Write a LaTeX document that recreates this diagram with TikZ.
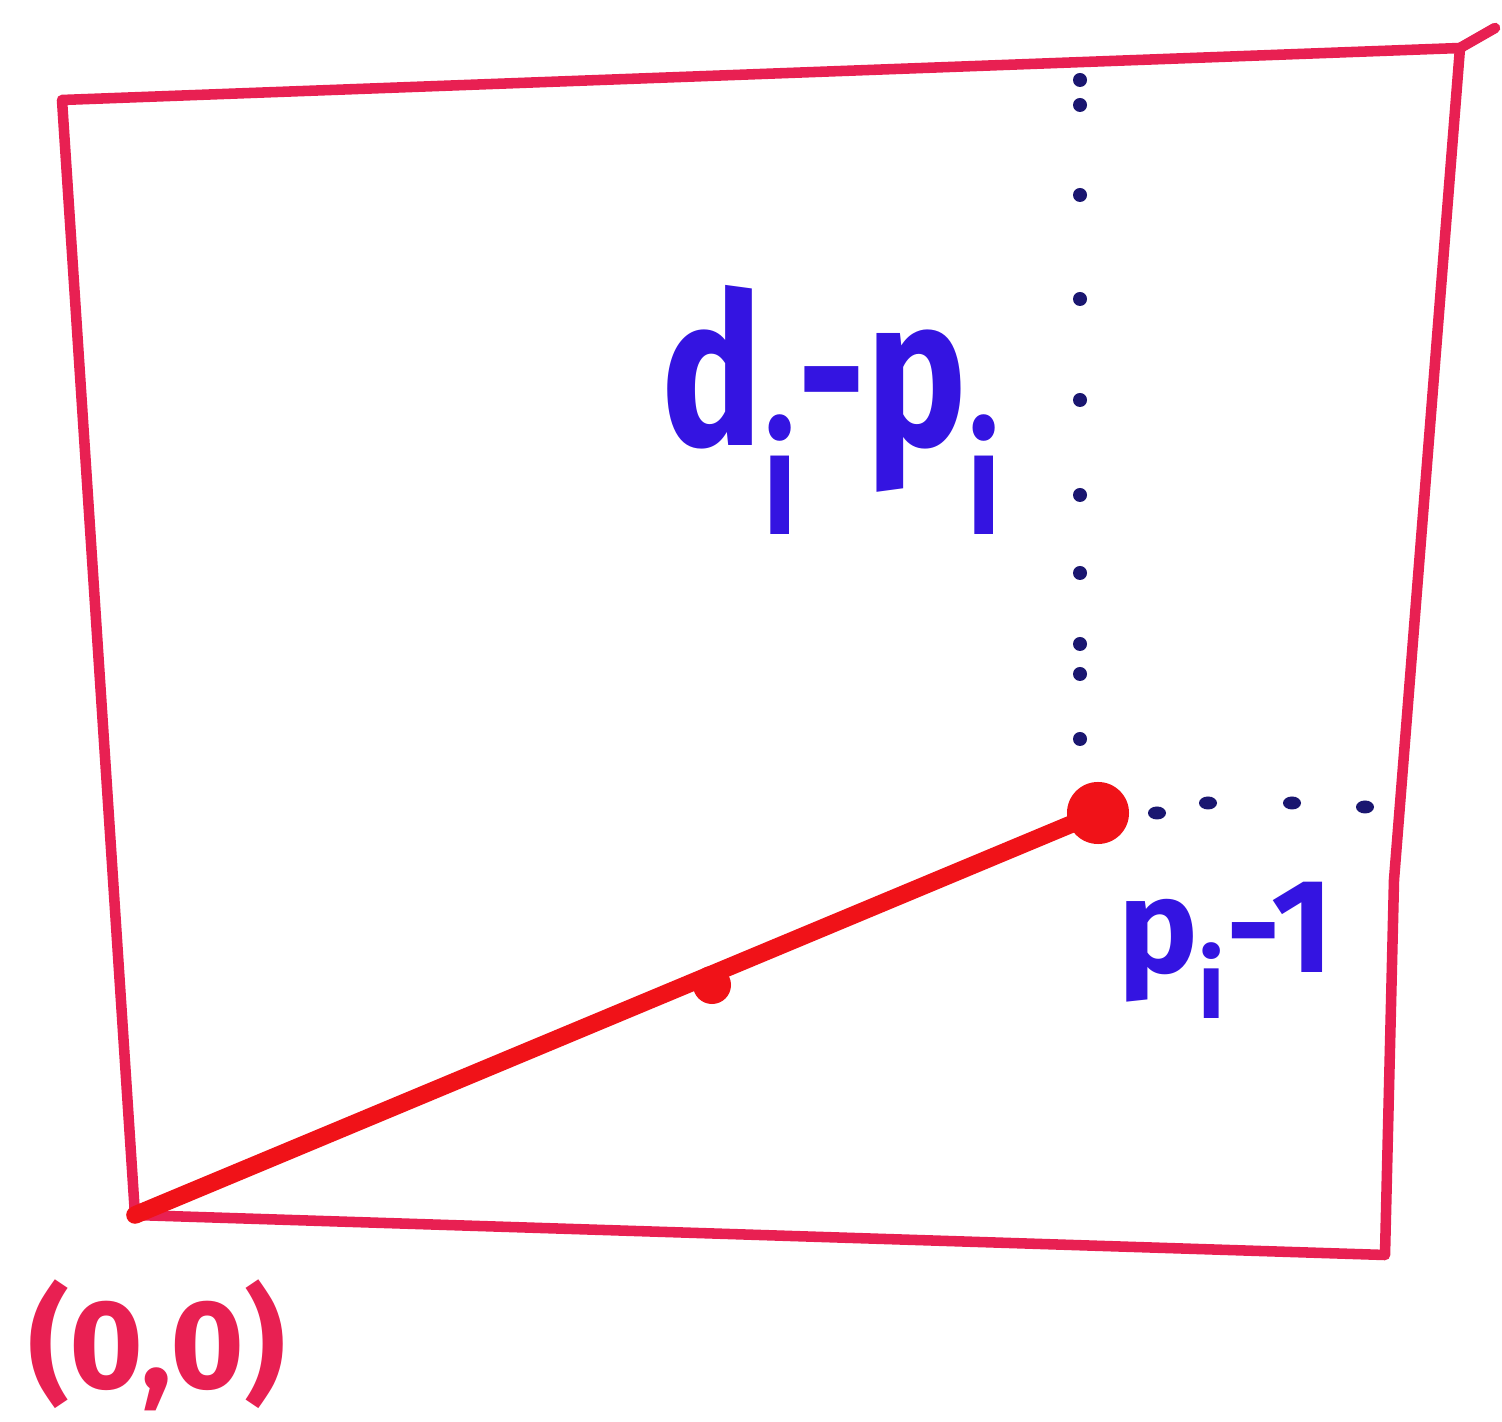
\documentclass[tikz,border=0pt]{standalone}
\usepackage{fontspec}
\setmainfont{Fira Sans}
\newcommand{\sbi}{\textsubscript{i}}
\begin{document}
\begin{tikzpicture}[x=0.01cm,y=-0.01cm,
  frame/.style={draw=rectred, line width=3pt, line join=round, line cap=round},
  seg/.style={draw=segred, line width=5pt, line cap=round},
  bigdot/.style={circle, fill=segred, inner sep=0pt, minimum size=0.62cm},
  smalldot/.style={circle, fill=segred, inner sep=0pt, minimum size=0.38cm},
  guide/.style={fill=navy},
  lbl/.style={text=penblue, font=\fontsize{60}{60}\selectfont\bfseries, inner sep=0pt},
  slbl/.style={text=penblue, font=\fontsize{38}{38}\selectfont\bfseries, inner sep=0pt},
  olbl/.style={text=rectred, font=\fontsize{36}{36}\selectfont\bfseries, inner sep=0pt}]
\definecolor{rectred}{RGB}{232,32,82}
\definecolor{segred}{RGB}{240,18,24}
\definecolor{penblue}{RGB}{52,20,225}
\definecolor{navy}{RGB}{26,22,112}
\useasboundingbox (0,0) rectangle (1502,1422);
\fill[white] (0,0) rectangle (1502,1422);
% frame corners
\coordinate (tl) at (62,100);
\coordinate (tr) at (1460,48);
\coordinate (rm) at (1394,880);
\coordinate (br) at (1385,1255);
\coordinate (bl) at (135,1215);
\coordinate (stub) at (1495,28);
\draw[frame] (tl) -- (tr) -- (rm) -- (br) -- (bl) -- cycle;
\draw[frame] (tr) -- (stub);
% dotted guides
\foreach \yy in {80,105,195,299,400,495,573,644,674,739}
  \fill[guide] (1080,\yy) circle (0.07cm);
\foreach \xx/\yy in {1157/813,1208/803,1292/803,1365/807}
  \fill[guide] (\xx,\yy) ellipse (0.09cm and 0.065cm);
% segment
\node[bigdot] (p) at (1098,813) {};
\node[smalldot] (m) at (712,985) {};
\draw[seg] (bl) -- (p.center);
% labels
\node[lbl] (t1) at (832,410) {\scalebox{0.8}[1]{d\sbi-p\sbi}};
\node[slbl] (t2) at (1226,950) {p\sbi-1};
\node[olbl] (t3) at (157,1345) {(0,0)};
\end{tikzpicture}
\end{document}
